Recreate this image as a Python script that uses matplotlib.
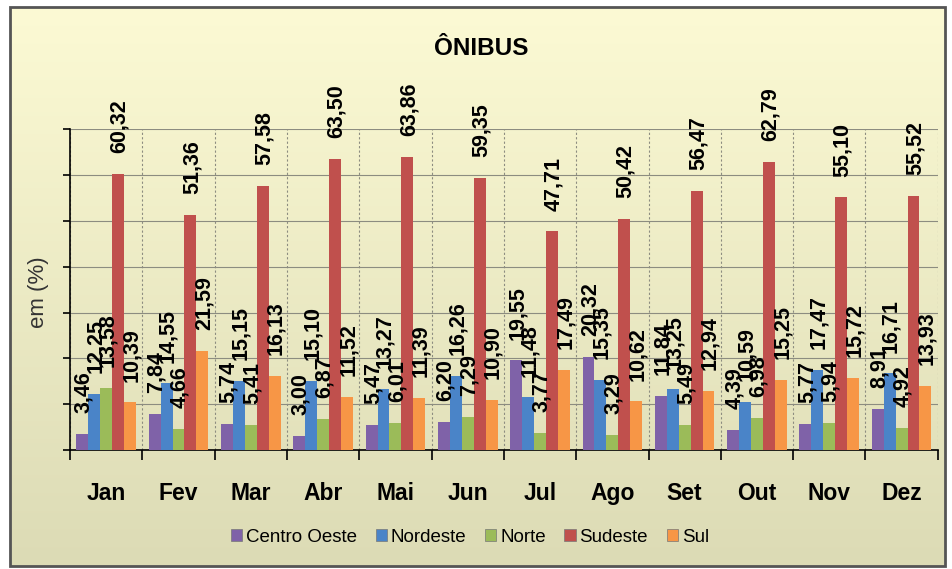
import matplotlib.pyplot as plt
import numpy as np
from matplotlib.patches import Patch, Rectangle
from matplotlib.colors import LinearSegmentedColormap

months = ['Jan', 'Fev', 'Mar', 'Abr', 'Mai', 'Jun', 'Jul', 'Ago', 'Set', 'Out', 'Nov', 'Dez']
regions = ['Centro Oeste', 'Nordeste', 'Norte', 'Sudeste', 'Sul']

centro_oeste = [3.46, 7.84, 5.74, 3.00, 5.47, 6.20, 19.55, 20.32, 11.84, 4.39, 5.77, 8.91]
nordeste = [12.25, 14.55, 15.15, 15.10, 13.27, 16.26, 11.48, 15.35, 13.25, 10.59, 17.47, 16.71]
norte = [13.58, 4.66, 5.41, 6.87, 6.01, 7.29, 3.77, 3.29, 5.49, 6.98, 5.94, 4.92]
sudeste = [60.32, 51.36, 57.58, 63.50, 63.86, 59.35, 47.71, 50.42, 56.47, 62.79, 55.10, 55.52]
sul = [10.39, 21.59, 16.13, 11.52, 11.39, 10.90, 17.49, 10.62, 12.94, 15.25, 15.72, 13.93]

series = [centro_oeste, nordeste, norte, sudeste, sul]
colors = ['#7F62A8', '#4A84C8', '#9BBB59', '#C0504D', '#F79646']

plt.rcParams['font.family'] = ['Liberation Sans', 'DejaVu Sans']

fig = plt.figure(figsize=(9.53, 5.69), dpi=100)
fig.patch.set_facecolor('white')

# gradient background inside the frame
bg = fig.add_axes([0.010, 0.006, 0.982, 0.982], zorder=-10)
grad = np.linspace(0, 1, 256).reshape(-1, 1)
cmap = LinearSegmentedColormap.from_list('bg', ['#FCFAD4', '#DCDBB5'])
bg.imshow(grad, aspect='auto', cmap=cmap, extent=[0, 1, 0, 1], origin='upper')
bg.set_axis_off()
fig.patches.append(Rectangle((0.010, 0.006), 0.982, 0.982, transform=fig.transFigure,
                             fill=False, edgecolor='#555555', linewidth=2))

ax = fig.add_axes([0.0735, 0.209, 0.9105, 0.564])
ax.set_facecolor('none')

x = np.arange(len(months))
w = 0.165
for i in range(len(series)):
	pos = x + (i - 2) * w
	ax.bar(pos, series[i], width=w, color=colors[i], zorder=3)
	for p, v in zip(pos, series[i]):
		ax.annotate(('%.2f' % v).replace('.', ','), (p, v), xytext=(1, 15),
		            textcoords='offset points', rotation=90, ha='center', va='bottom',
		            fontsize=15.5, fontweight='bold', color='black', zorder=5,
		            annotation_clip=False)

ax.set_xlim(-0.5, 11.5)
ax.set_ylim(0, 70)
ax.set_yticks(np.arange(0, 71, 10))
ax.set_yticklabels([])
ax.tick_params(axis='y', direction='out', length=5, width=1.2)
ax.yaxis.grid(True, color='#8C8C80', linewidth=0.8, zorder=0)

ax.set_xticks(np.arange(-0.5, 12, 1))
ax.set_xticklabels([])
ax.tick_params(axis='x', which='major', direction='out', length=7, width=1.2)
ax.set_xticks(x, minor=True)
ax.set_xticklabels(months, minor=True, fontsize=16.5, fontweight='bold')
ax.tick_params(axis='x', which='minor', length=0, pad=23)
ax.xaxis.grid(True, which='major', color='#8C8C80', linewidth=0.8, linestyle=(0, (2, 2)), zorder=0)

ax.spines['top'].set_visible(False)
ax.spines['right'].set_visible(False)
ax.spines['left'].set_linewidth(1.2)
ax.spines['bottom'].set_linewidth(1.2)

fig.text(0.505, 0.915, 'ÔNIBUS', ha='center', va='center', fontsize=17.5, fontweight='bold')
fig.text(0.04, 0.487, 'em (%)', ha='center', va='center', rotation=90, fontsize=16, color='#333333')

handles = [Patch(facecolor=c, edgecolor='#777777', linewidth=0.5) for c in colors]
fig.legend(handles, regions, loc='center', bbox_to_anchor=(0.493, 0.056), ncol=5,
           frameon=False, fontsize=13.5, handlelength=0.6, handleheight=0.6,
           handletextpad=0.2, columnspacing=1.0)

plt.savefig('out.png', dpi=100)
